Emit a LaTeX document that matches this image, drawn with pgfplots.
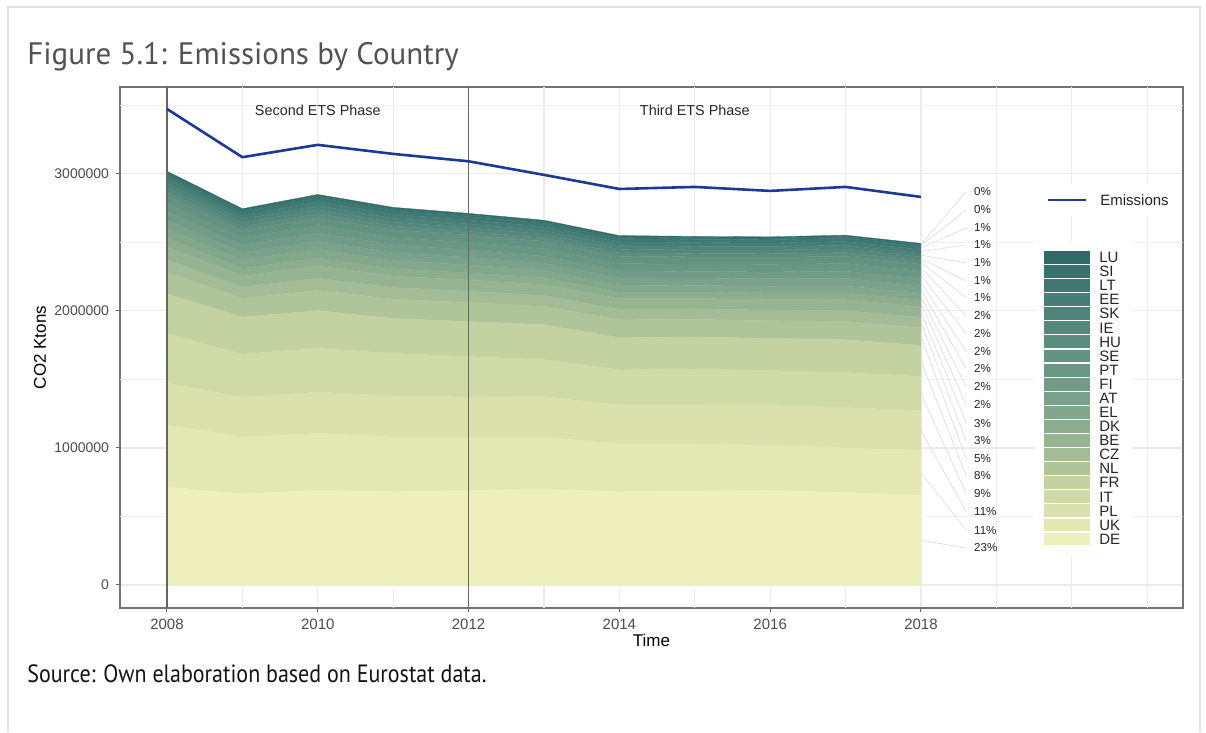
\documentclass[border=0pt]{standalone}
\usepackage{pgfplots}
\pgfplotsset{compat=1.18}
\usepackage{pgfplotstable}
\usepackage{fontspec}
\setmainfont{Liberation Sans}
\newfontfamily\titlefont{PT Sans}
\newfontfamily\sourcefont{PT Sans}[FakeStretch=0.88]

\definecolor{emis}{HTML}{1C3A94}
\definecolor{cLU}{HTML}{2E6B68}
\definecolor{cSI}{HTML}{37726E}
\definecolor{cLT}{HTML}{3F7872}
\definecolor{cEE}{HTML}{467E76}
\definecolor{cSK}{HTML}{4E837A}
\definecolor{cIE}{HTML}{55887C}
\definecolor{cHU}{HTML}{5C8D7F}
\definecolor{cSE}{HTML}{639282}
\definecolor{cPT}{HTML}{6A9784}
\definecolor{cFI}{HTML}{729C87}
\definecolor{cAT}{HTML}{7AA189}
\definecolor{cEL}{HTML}{83A78B}
\definecolor{cDK}{HTML}{8CAD8E}
\definecolor{cBE}{HTML}{97B492}
\definecolor{cCZ}{HTML}{A3BC96}
\definecolor{cNL}{HTML}{B0C49A}
\definecolor{cFR}{HTML}{C4D1A0}
\definecolor{cIT}{HTML}{D0DAA6}
\definecolor{cPL}{HTML}{DAE1AC}
\definecolor{cUK}{HTML}{E3E8B2}
\definecolor{cDE}{HTML}{EDF0BA}

\pgfplotstableread{
year E
2008 3474
2009 3122
2010 3212
2011 3146
2012 3092
2013 2993
2014 2890
2015 2905
2016 2876
2017 2905
2018 2832
}\emisdata

\pgfplotstableread{
year DE UK PL IT FR NL CZ BE DK EL AT FI PT SE HU IE SK EE LT SI LU
2008 715 453 306 360 290 156 93 95 62 70 60 63 60 58 31 33 32 29 28 15 11
2009 665 416 290 315 270 137 82 80 56 62 54 54 55 52 27 29 27 25 26 14 10
2010 690 417 300 320 275 148 89 90 58 64 58 62 53 57 29 29 29 30 27 15 10
2011 680 400 300 310 255 141 85 83 54 60 57 57 54 56 28 28 28 30 26 14 10
2012 690 387 295 295 255 139 83 82 52 58 55 54 55 55 26 27 27 28 25 14 10
2013 700 380 295 270 255 133 79 80 50 53 53 52 54 54 25 27 26 30 24 13 9
2014 680 350 285 255 235 130 78 77 48 50 54 50 53 54 25 26 26 29 23 13 9
2015 685 345 285 260 235 128 77 76 47 48 54 48 55 52 25 26 25 28 23 13 9
2016 690 330 290 255 235 129 77 78 48 48 55 50 55 52 26 27 25 26 23 13 9
2017 675 325 295 255 240 133 79 80 50 50 56 52 57 52 27 27 26 28 24 13 9
2018 655 328 290 250 225 129 77 76 50 50 54 52 54 52 26 27 25 27 24 13 9
}\stackdata

\pgfplotsset{
  panel/.style={
    at={(60pt,62pt)}, anchor=south west, scale only axis,
    width=531.5pt, height=260.5pt,
    xmin=2007.377, xmax=2021.475, ymin=-168, ymax=3635,
  },
  layer/.style={fill=#1, draw=#1, line width=0.15pt},
}

\begin{document}
\begin{tikzpicture}
\fill[white] (0,0) rectangle (603pt,366pt);
\draw[black!12, line width=1pt] (4pt,0) -- (4pt,362.5pt) -- (600pt,362.5pt) -- (600pt,0);
\node[anchor=base west, inner sep=0, text=black!68, font=\titlefont\fontsize{15.5}{18}\selectfont] at (13.5pt,333.5pt) {Figure 5.1: Emissions by Country};
\node[anchor=base west, inner sep=0, text=black!92, font=\sourcefont\fontsize{12.5}{14}\selectfont] at (13.5pt,24.5pt) {Source: Own elaboration based on Eurostat data.};

\begin{axis}[panel,
  stack plots=y,
  /pgf/number format/assume math mode=true,
  /pgf/number format/1000 sep={},
  axis line style={black!55, line width=0.6pt},
  xtick={2008,2010,...,2018},
  ytick={0,1000,2000,3000},
  yticklabels={0,1000000,2000000,3000000},
  tick label style={font=\fontsize{7.5}{9}\selectfont, text=black!70},
  y tick label style={font=\fontsize{7}{9}\selectfont},
  tick align=outside, major tick length=2pt,
  tick style={black!60, line width=0.5pt},
  xtick pos=bottom, ytick pos=left,
  grid=major, major grid style={black!8, line width=0.55pt},
  extra x ticks={2009,2011,2013,2015,2017,2019,2020,2021},
  extra x tick labels={},
  extra x tick style={major tick length=0pt, grid=major},
  extra y ticks={500,1500,2500,3500},
  extra y tick labels={},
  extra y tick style={major tick length=0pt, grid=major, major grid style={black!5, line width=0.4pt}},
  xlabel={Time}, ylabel={CO2 Ktons},
  label style={font=\fontsize{8.5}{10}\selectfont, text=black},
  xlabel style={at={(axis description cs:0.5,-0.0614)}, anchor=center},
  ylabel style={at={(axis description cs:-0.0753,0.5)}, anchor=center},
]
\addplot[layer=cDE] table[x=year,y=DE]{\stackdata} \closedcycle;
\addplot[layer=cUK] table[x=year,y=UK]{\stackdata} \closedcycle;
\addplot[layer=cPL] table[x=year,y=PL]{\stackdata} \closedcycle;
\addplot[layer=cIT] table[x=year,y=IT]{\stackdata} \closedcycle;
\addplot[layer=cFR] table[x=year,y=FR]{\stackdata} \closedcycle;
\addplot[layer=cNL] table[x=year,y=NL]{\stackdata} \closedcycle;
\addplot[layer=cCZ] table[x=year,y=CZ]{\stackdata} \closedcycle;
\addplot[layer=cBE] table[x=year,y=BE]{\stackdata} \closedcycle;
\addplot[layer=cDK] table[x=year,y=DK]{\stackdata} \closedcycle;
\addplot[layer=cEL] table[x=year,y=EL]{\stackdata} \closedcycle;
\addplot[layer=cAT] table[x=year,y=AT]{\stackdata} \closedcycle;
\addplot[layer=cFI] table[x=year,y=FI]{\stackdata} \closedcycle;
\addplot[layer=cPT] table[x=year,y=PT]{\stackdata} \closedcycle;
\addplot[layer=cSE] table[x=year,y=SE]{\stackdata} \closedcycle;
\addplot[layer=cHU] table[x=year,y=HU]{\stackdata} \closedcycle;
\addplot[layer=cIE] table[x=year,y=IE]{\stackdata} \closedcycle;
\addplot[layer=cSK] table[x=year,y=SK]{\stackdata} \closedcycle;
\addplot[layer=cEE] table[x=year,y=EE]{\stackdata} \closedcycle;
\addplot[layer=cLT] table[x=year,y=LT]{\stackdata} \closedcycle;
\addplot[layer=cSI] table[x=year,y=SI]{\stackdata} \closedcycle;
\addplot[layer=cLU] table[x=year,y=LU]{\stackdata} \closedcycle;
\end{axis}

\begin{axis}[panel, hide axis, clip=false]
\addplot[black!60, line width=0.7pt] coordinates {(2008,-168) (2008,3635)};
\addplot[black!60, line width=0.7pt] coordinates {(2012,-168) (2012,3635)};
\addplot[emis, line width=1.3pt, line join=round] table[x=year,y=E]{\emisdata};
\node[font=\fontsize{7.2}{8}\selectfont, text=black!85] at (axis cs:2010,3467) {Second ETS Phase};
\node[font=\fontsize{7.2}{8}\selectfont, text=black!85] at (axis cs:2015,3467) {Third ETS Phase};
% leader lines
\draw[black!14, line width=0.3pt] (axis cs:2018,2488) -- (axis cs:2018.6,2869);
\draw[black!14, line width=0.3pt] (axis cs:2018,2477) -- (axis cs:2018.6,2737);
\draw[black!14, line width=0.3pt] (axis cs:2018,2459) -- (axis cs:2018.6,2606);
\draw[black!14, line width=0.3pt] (axis cs:2018,2433) -- (axis cs:2018.6,2482);
\draw[black!14, line width=0.3pt] (axis cs:2018,2407) -- (axis cs:2018.6,2350);
\draw[black!14, line width=0.3pt] (axis cs:2018,2381) -- (axis cs:2018.6,2219);
\draw[black!14, line width=0.3pt] (axis cs:2018,2355) -- (axis cs:2018.6,2095);
\draw[black!14, line width=0.3pt] (axis cs:2018,2316) -- (axis cs:2018.6,1964);
\draw[black!14, line width=0.3pt] (axis cs:2018,2263) -- (axis cs:2018.6,1832);
\draw[black!14, line width=0.3pt] (axis cs:2018,2210) -- (axis cs:2018.6,1701);
\draw[black!14, line width=0.3pt] (axis cs:2018,2157) -- (axis cs:2018.6,1577);
\draw[black!14, line width=0.3pt] (axis cs:2018,2105) -- (axis cs:2018.6,1445);
\draw[black!14, line width=0.3pt] (axis cs:2018,2055) -- (axis cs:2018.6,1314);
\draw[black!14, line width=0.3pt] (axis cs:2018,1992) -- (axis cs:2018.6,1182);
\draw[black!14, line width=0.3pt] (axis cs:2018,1915) -- (axis cs:2018.6,1051);
\draw[black!14, line width=0.3pt] (axis cs:2018,1812) -- (axis cs:2018.6,920);
\draw[black!14, line width=0.3pt] (axis cs:2018,1635) -- (axis cs:2018.6,796);
\draw[black!14, line width=0.3pt] (axis cs:2018,1398) -- (axis cs:2018.6,664);
\draw[black!14, line width=0.3pt] (axis cs:2018,1128) -- (axis cs:2018.6,533);
\draw[black!14, line width=0.3pt] (axis cs:2018,819) -- (axis cs:2018.6,401);
\draw[black!14, line width=0.3pt] (axis cs:2018,327) -- (axis cs:2018.6,270);
% percentage labels
\begin{scope}[every node/.style={anchor=west, inner sep=0pt, font=\fontsize{5.8}{7}\selectfont, text=black!85}]
\node at (axis cs:2018.7,2869) {0\%};
\node at (axis cs:2018.7,2737) {0\%};
\node at (axis cs:2018.7,2606) {1\%};
\node at (axis cs:2018.7,2482) {1\%};
\node at (axis cs:2018.7,2350) {1\%};
\node at (axis cs:2018.7,2219) {1\%};
\node at (axis cs:2018.7,2095) {1\%};
\node at (axis cs:2018.7,1964) {2\%};
\node at (axis cs:2018.7,1832) {2\%};
\node at (axis cs:2018.7,1701) {2\%};
\node at (axis cs:2018.7,1577) {2\%};
\node at (axis cs:2018.7,1445) {2\%};
\node at (axis cs:2018.7,1314) {2\%};
\node at (axis cs:2018.7,1182) {3\%};
\node at (axis cs:2018.7,1051) {3\%};
\node at (axis cs:2018.7,920) {5\%};
\node at (axis cs:2018.7,796) {8\%};
\node at (axis cs:2018.7,664) {9\%};
\node at (axis cs:2018.7,533) {11\%};
\node at (axis cs:2018.7,401) {11\%};
\node at (axis cs:2018.7,270) {23\%};
\end{scope}
\end{axis}

% legends (pixel coordinates)
\begin{scope}[x=0.5pt, y=-0.5pt, shift={(0pt,366pt)}]
\fill[white] (1035,184) rectangle (1178,216);
\fill[white] (1035,241) rectangle (1132,556);
\draw[emis, line width=1.3pt] (1048,200) -- (1086,200);
\node[anchor=west, inner sep=0pt, font=\fontsize{7.5}{9}\selectfont, text=black!85] at (1100,200) {Emissions};
\foreach \c [count=\i from 0] in {LU,SI,LT,EE,SK,IE,HU,SE,PT,FI,AT,EL,DK,BE,CZ,NL,FR,IT,PL,UK,DE} {
  \fill[c\c] (1044,{251+14.08*\i}) rectangle (1090,{251+14.08*\i+12.9});
  \node[anchor=west, inner sep=0pt, font=\fontsize{7.5}{8}\selectfont, text=black!85] at (1099,{251+14.08*\i+6.5}) {\c};
}
\end{scope}
\end{tikzpicture}
\end{document}
